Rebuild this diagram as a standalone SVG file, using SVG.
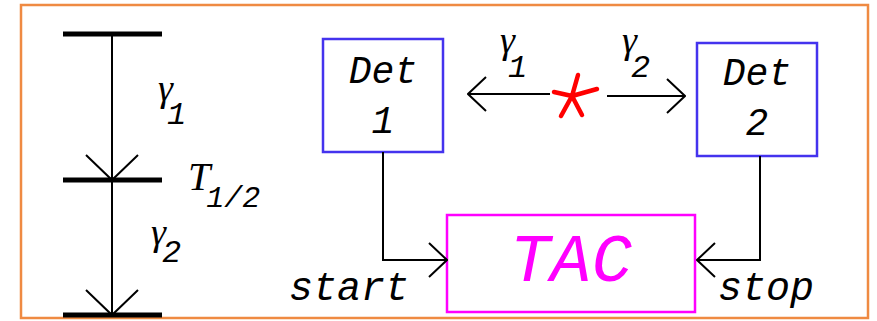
<svg xmlns="http://www.w3.org/2000/svg" width="877" height="321" viewBox="0 0 877 321">
<style>
.lvl{stroke:#000;stroke-width:5;fill:none}
.ln{stroke:#000;stroke-width:2;fill:none}
.det{fill:#fff;stroke:#4433EE;stroke-width:2.5}
.mono{font-family:"Liberation Mono","DejaVu Sans Mono",monospace;font-style:italic;fill:#000}
.ser{font-family:"Liberation Serif","DejaVu Serif",serif;font-style:italic;fill:#000}
.g{font-family:"Liberation Serif","DejaVu Serif",serif;font-style:italic;font-size:38px}
.sub{font-family:"Liberation Mono","DejaVu Sans Mono",monospace;font-style:italic;font-size:32px}
</style>
<defs>
<marker id="ah" viewBox="0 0 20 36" refX="19" refY="18" markerWidth="20" markerHeight="36" markerUnits="userSpaceOnUse" orient="auto">
<path d="M1,1 L19,18 L1,35" fill="none" stroke="#000" stroke-width="2"/>
</marker>
<marker id="ahb" viewBox="0 0 28 54" refX="26" refY="27" markerWidth="28" markerHeight="54" markerUnits="userSpaceOnUse" orient="auto">
<path d="M1,1 L26,27 L1,53" fill="none" stroke="#000" stroke-width="2"/>
</marker>
</defs>
<rect x="0" y="0" width="877" height="321" fill="#fff"/>
<rect x="21" y="5" width="847" height="313" fill="#fff" stroke="#EF8A42" stroke-width="2.5"/>
<g id="levels">
<line class="lvl" x1="63" y1="34" x2="162" y2="34"/>
<line class="lvl" x1="63" y1="180" x2="162" y2="180"/>
<line class="lvl" x1="63" y1="315" x2="162" y2="315"/>
<line class="ln" x1="112" y1="34" x2="112" y2="180" marker-end="url(#ahb)"/>
<line class="ln" x1="112" y1="180" x2="112" y2="315" marker-end="url(#ahb)"/>
<text><tspan class="g" x="158" y="101">γ</tspan><tspan class="sub" x="167" y="124">1</tspan></text>
<text x="188" y="190"><tspan class="ser" font-size="40">T</tspan><tspan class="mono" font-size="30" dx="-4" dy="17">1/2</tspan></text>
<text><tspan class="g" x="151" y="245">γ</tspan><tspan class="sub" x="162" y="262">2</tspan></text>
</g>
<g id="det1">
<rect class="det" x="323" y="39" width="120" height="113"/>
<text class="mono" x="383" y="83" font-size="38" text-anchor="middle">Det</text>
<text class="mono" x="383" y="133" font-size="38" text-anchor="middle">1</text>
</g>
<g id="det2">
<rect class="det" x="697" y="43" width="120" height="113"/>
<text class="mono" x="757" y="85" font-size="38" text-anchor="middle">Det</text>
<text class="mono" x="757" y="135" font-size="38" text-anchor="middle">2</text>
</g>
<g id="tac">
<rect x="447" y="215" width="248" height="97" fill="#fff" stroke="#FF00FF" stroke-width="2.5"/>
<text class="mono" x="571" y="281" font-size="68" text-anchor="middle" style="fill:#FF00FF">TAC</text>
</g>
<g id="source">
<path d="M572,96 L578,75 M572,96 L554,92 M572,96 L597,89 M572,96 L561,116 M572,96 L582,115" stroke="#FF0000" stroke-width="4.5" stroke-linecap="round" fill="none"/>
</g>
<g id="connectors">
<line class="ln" x1="550" y1="94" x2="468" y2="94" marker-end="url(#ah)"/>
<line class="ln" x1="607" y1="96" x2="685" y2="96" marker-end="url(#ah)"/>
<path class="ln" d="M383,152 V260 H447" marker-end="url(#ah)"/>
<path class="ln" d="M760,156 V260 H697" marker-end="url(#ah)"/>
</g>
<g id="labels">
<text><tspan class="g" x="500" y="53">γ</tspan><tspan class="sub" x="508" y="77">1</tspan></text>
<text><tspan class="g" x="622" y="53">γ</tspan><tspan class="sub" x="631" y="77">2</tspan></text>
<text class="mono" x="289" y="300" font-size="40">start</text>
<text class="mono" x="718" y="300" font-size="40">stop</text>
</g>
</svg>
